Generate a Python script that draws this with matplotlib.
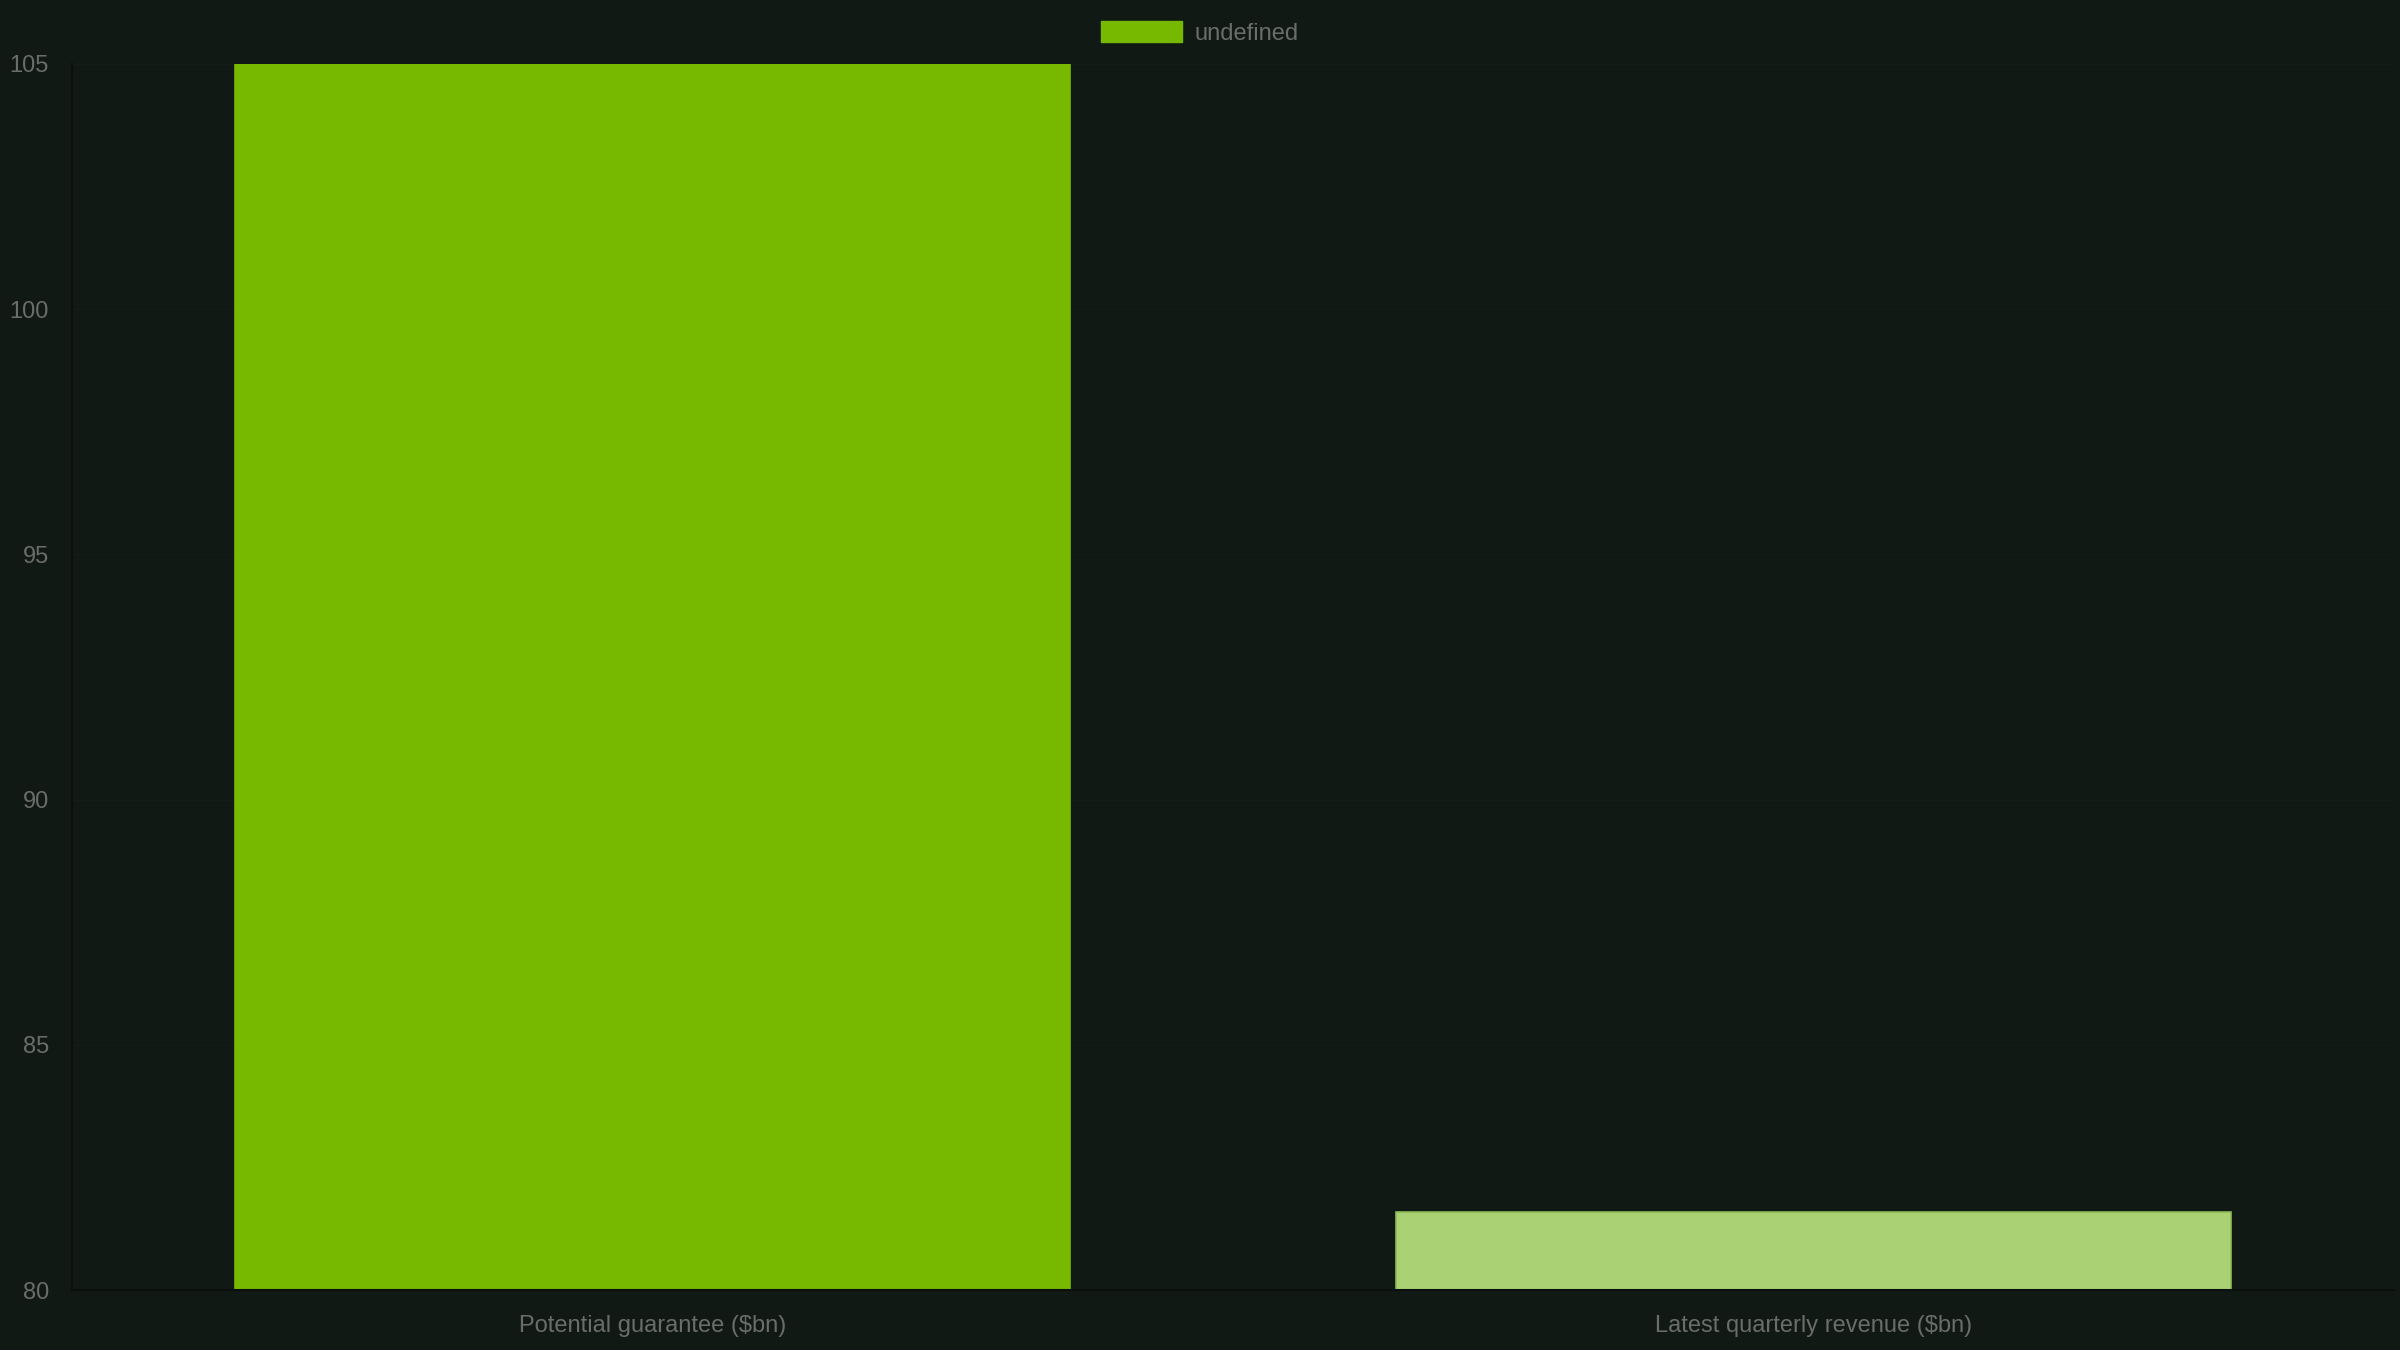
import matplotlib
matplotlib.use("Agg")
import matplotlib.pyplot as plt
from matplotlib.patches import Patch

# --------------------------------
# DATA
# --------------------------------
categories = ["Potential guarantee ($bn)", "Latest quarterly revenue ($bn)"]
values = [105.0, 81.6]
bar_colours = ["#76b900", "#aad274"]
edge_colours = ["#76b900", "#8cba55"]
legend_label = "undefined"

y_ticks = [80, 85, 90, 95, 100, 105]

# --------------------------------
# STYLE
# --------------------------------
BG = "#111915"
TEXT = "#6a6d6b"
AXIS = "#0b0f0d"
FONT_SIZE = 17

plt.rcParams.update({
    "font.family": ["Liberation Sans", "DejaVu Sans"],
    "font.size": FONT_SIZE,
})

fig = plt.figure(figsize=(24, 13.5), dpi=100, facecolor=BG)
ax = fig.add_axes([0.03, 0.0444, 0.9675, 0.9082])
ax.set_facecolor(BG)

x = range(len(categories))
ax.bar(x, [v - 80 for v in values], bottom=80, width=0.72,
       color=bar_colours, edgecolor=edge_colours, linewidth=1.2, zorder=2)

ax.set_xlim(-0.5, len(categories) - 0.5)
ax.set_ylim(80, 105)
ax.set_yticks(y_ticks)
ax.set_yticklabels([str(t) for t in y_ticks])
ax.set_xticks(list(x))
ax.set_xticklabels(categories)

ax.tick_params(axis="y", length=0, pad=16.5, colors=TEXT, labelsize=FONT_SIZE)
ax.tick_params(axis="x", length=0, pad=18, colors=TEXT, labelsize=FONT_SIZE)

for t in y_ticks:
    ax.axhline(t, color="#141c18", lw=1, zorder=1)

for side in ["top", "right"]:
    ax.spines[side].set_visible(False)
ax.spines["left"].set_color(AXIS)
ax.spines["bottom"].set_color(AXIS)
ax.spines["left"].set_linewidth(1.5)
ax.spines["bottom"].set_linewidth(1.5)

handle = Patch(facecolor=bar_colours[0], edgecolor=bar_colours[0], label=legend_label)
fig.legend(handles=[handle], loc="center", bbox_to_anchor=(0.5, 0.9755),
           frameon=False, handlelength=3.4, handleheight=1.0, handletextpad=0.55,
           labelcolor=TEXT, fontsize=FONT_SIZE)

fig.savefig("out.png", dpi=100, facecolor=BG)
